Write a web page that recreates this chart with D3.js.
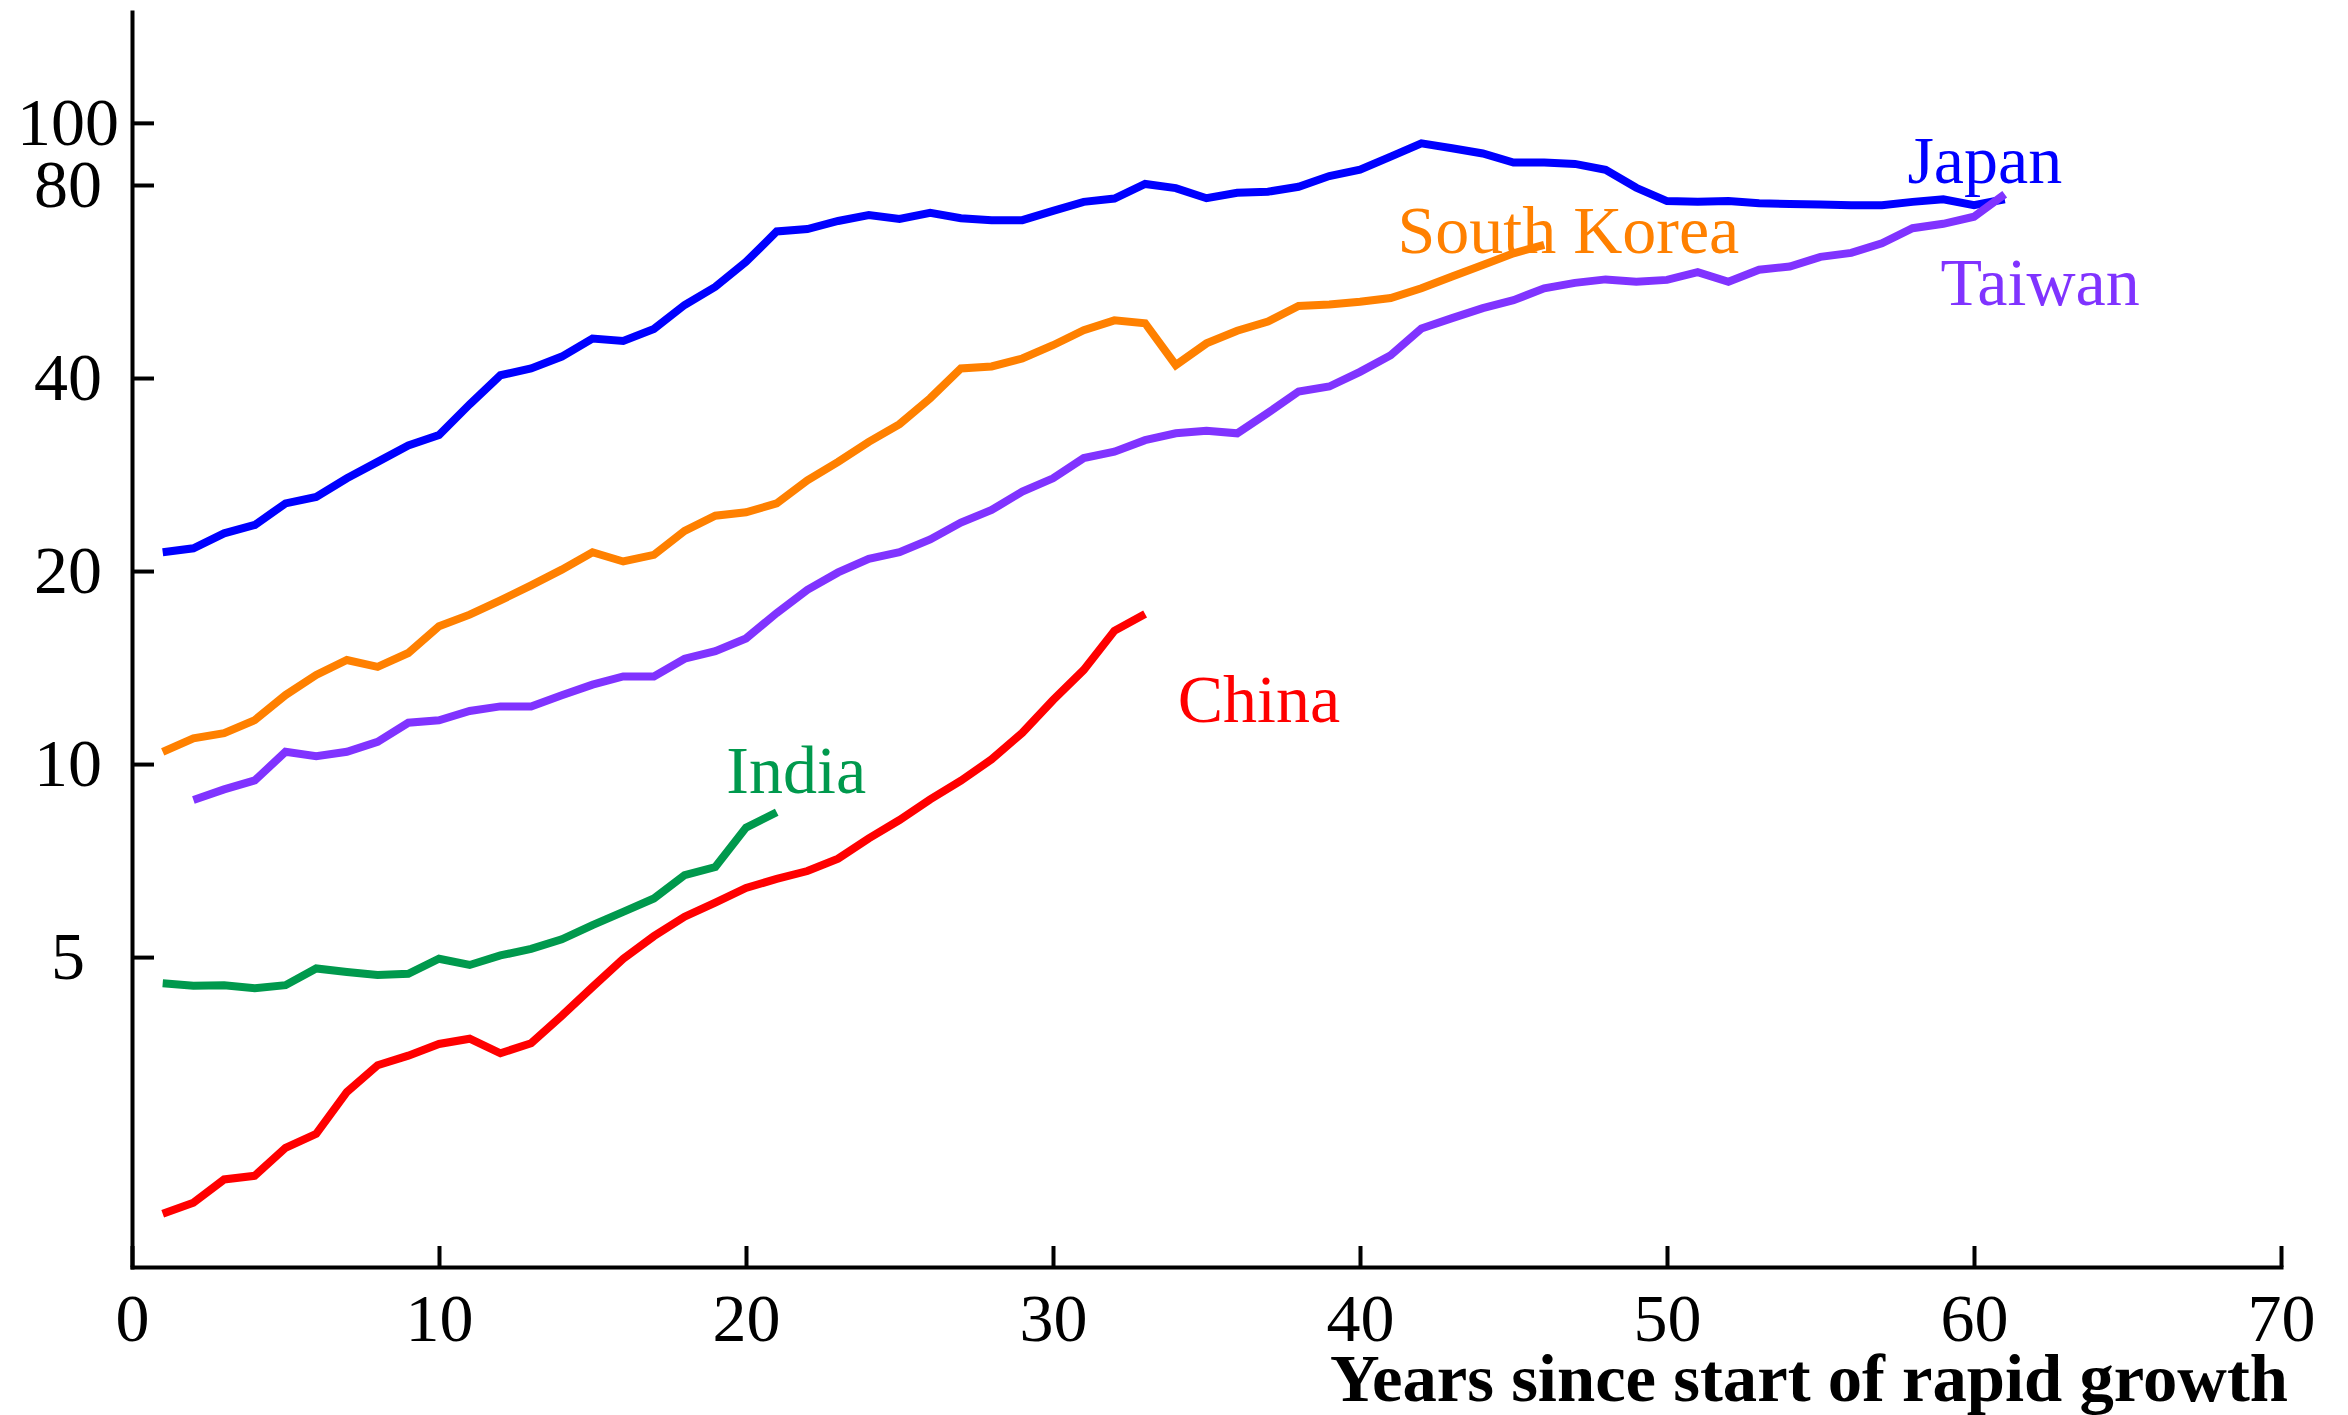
<!DOCTYPE html>
<html>
<head>
<meta charset="utf-8">
<script src="https://cdnjs.cloudflare.com/ajax/libs/d3/7.8.5/d3.min.js"></script>
<style>
  body { margin: 0; background: #fff; }
  svg { display: block; font-family: "Liberation Serif", "Times New Roman", serif; }
  .axis path, .axis line { stroke: #000; stroke-width: 4; }
  .axis path { stroke-linecap: square; }
  .axis text { font-size: 68px; fill: #000; font-family: "Liberation Serif", "Times New Roman", serif; }
  .series { fill: none; stroke-width: 8; }
  .label { font-size: 68px; }
  .title { font-size: 68px; font-weight: bold; }
</style>
</head>
<body>
<div id="chart"></div>
<script>
// values per year, each series starts at its own year
const japanStart = 1;
const japan = [21.4, 21.7, 22.9, 23.6, 25.5, 26.1, 27.9, 29.6, 31.4, 32.6,
  36.4, 40.4, 41.4, 43.2, 46.1, 45.7, 47.7, 52.0, 55.5, 60.7,
  67.7, 68.3, 70.3, 71.8, 70.8, 72.4, 71.0, 70.5, 70.5, 72.9,
  75.3, 76.2, 80.3, 79.1, 76.3, 77.8, 78.1, 79.5, 82.6, 84.5,
  88.6, 92.9, 91.3, 89.6, 86.7, 86.7, 86.3, 84.5, 79.2, 75.5,
  75.3, 75.5, 74.9, 74.7, 74.6, 74.4, 74.4, 75.3, 76.0, 74.4, 76.0];

const southKoreaStart = 1;
const southKorea = [10.45, 10.97, 11.17, 11.71, 12.81, 13.77, 14.53, 14.18, 14.9, 16.4,
  17.1, 18.0, 19.0, 20.1, 21.4, 20.7, 21.2, 23.1, 24.4, 24.7,
  25.5, 27.7, 29.6, 31.8, 33.9, 37.2, 41.4, 41.7, 42.9, 45.0,
  47.5, 49.2, 48.7, 41.9, 45.3, 47.4, 49.0, 51.8, 52.1, 52.6,
  53.3, 55.2, 57.6, 60.0, 62.6, 64.5];

const taiwanStart = 2;
const taiwan = [8.79, 9.13, 9.43, 10.45, 10.29, 10.45, 10.83, 11.6, 11.7,
  12.1, 12.3, 12.3, 12.8, 13.3, 13.7, 13.7, 14.6, 15.0, 15.7,
  17.2, 18.7, 19.9, 20.9, 21.4, 22.4, 23.8, 24.9, 26.6, 27.9,
  30.0, 30.7, 32.0, 32.8, 33.1, 32.8, 35.3, 38.1, 38.8, 40.9,
  43.4, 47.8, 49.6, 51.4, 52.9, 55.2, 56.3, 57.0, 56.5, 56.9,
  58.5, 56.5, 59.0, 59.7, 61.8, 62.7, 64.9, 68.5, 69.6, 71.4, 77.4];

const indiaStart = 1;
const india = [4.55, 4.51, 4.52, 4.47, 4.52, 4.80, 4.74, 4.69, 4.71, 4.97,
  4.86, 5.03, 5.15, 5.33, 5.61, 5.88, 6.17, 6.71, 6.91, 7.96, 8.41];

const chinaStart = 1;
const china = [1.99, 2.07, 2.25, 2.28, 2.52, 2.65, 3.08, 3.39, 3.51, 3.66,
  3.73, 3.54, 3.67, 4.05, 4.49, 4.97, 5.39, 5.78, 6.08, 6.41,
  6.62, 6.81, 7.12, 7.66, 8.18, 8.81, 9.42, 10.17, 11.19, 12.58,
  14.02, 16.14, 17.14];

const xTicks = [0, 10, 20, 30, 40, 50, 60, 70];
const yTicks = [5, 10, 20, 40, 80, 100];

const series = [
  {name: 'Japan', start: japanStart, values: japan, color: '#0000ff', label: [57.83, 80.6]},
  {name: 'South Korea', start: southKoreaStart, values: southKorea, color: '#ff8000', label: [41.22, 62.7]},
  {name: 'Taiwan', start: taiwanStart, values: taiwan, color: '#8033ff', label: [58.91, 52.0]},
  {name: 'India', start: indiaStart, values: india, color: '#00994d', label: [19.36, 9.01]},
  {name: 'China', start: chinaStart, values: china, color: '#ff0000', label: [34.06, 11.63]}
];

const width = 2348, height = 1415;
const margin = {top: 12, right: 67, bottom: 148, left: 132};

const svg = d3.select('#chart').append('svg')
  .attr('width', width)
  .attr('height', height);

// log2 y scale, 10 sits at 764px and one doubling is ~193px
const xScale = d3.scaleLinear()
  .domain([0, 70])
  .range([margin.left, width - margin.right]);

const yScale = d3.scaleLog().base(2)
  .domain([1.643, 148.9])
  .range([height - margin.bottom, margin.top]);

// axes, ticks point inwards
svg.append('g')
  .attr('class', 'axis x')
  .attr('transform', 'translate(0,' + (height - margin.bottom) + ')')
  .call(d3.axisBottom(xScale)
    .tickValues(xTicks)
    .tickFormat(d3.format('d'))
    .tickSizeInner(-21)
    .tickSizeOuter(0)
    .tickPadding(26));

svg.append('g')
  .attr('class', 'axis y')
  .attr('transform', 'translate(' + margin.left + ',0)')
  .call(d3.axisLeft(yScale)
    .tickValues(yTicks)
    .tickFormat(d3.format('d'))
    .tickSizeInner(-22)
    .tickSizeOuter(0)
    .tickPadding(64))
  .selectAll('text')
    .attr('text-anchor', 'middle');

const line = d3.line()
  .x(d => xScale(d.year))
  .y(d => yScale(d.value));

series.forEach(s => {
  const pts = s.values.map((v, i) => ({year: s.start + i, value: v}));
  svg.append('path')
    .datum(pts)
    .attr('class', 'series')
    .attr('stroke', s.color)
    .attr('d', line);
});

svg.selectAll('.label')
  .data(series)
  .enter().append('text')
  .attr('class', 'label')
  .attr('x', d => xScale(d.label[0]))
  .attr('y', d => yScale(d.label[1]))
  .attr('fill', d => d.color)
  .text(d => d.name);

// axis title spans roughly 1330..2288 in the reference
svg.append('text')
  .attr('class', 'title')
  .attr('x', 1330)
  .attr('y', 1401)
  .attr('textLength', 958)
  .attr('lengthAdjust', 'spacingAndGlyphs')
  .text('Years since start of rapid growth');
</script>
</body>
</html>
